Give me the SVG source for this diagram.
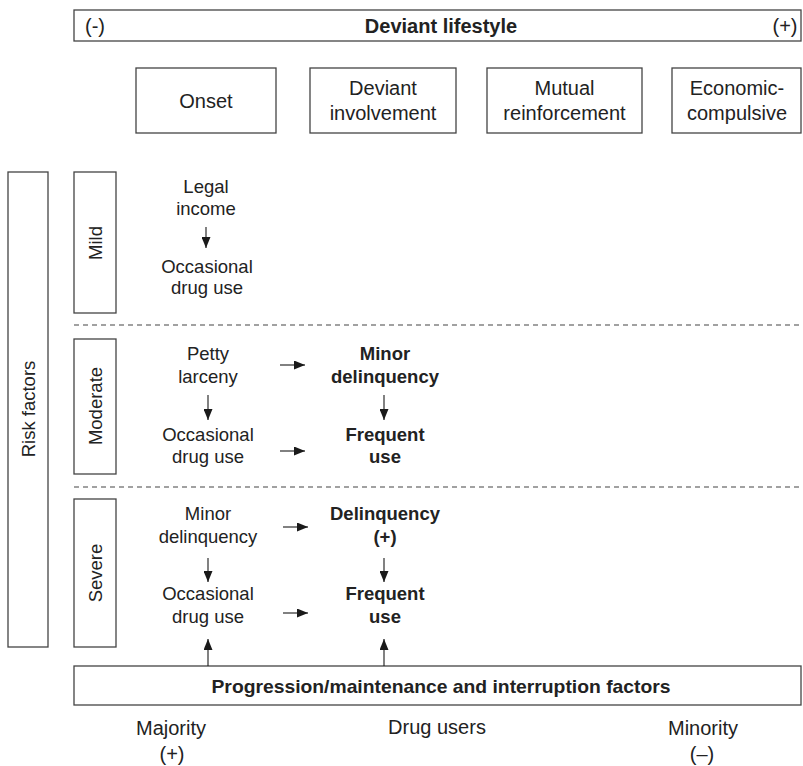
<svg xmlns="http://www.w3.org/2000/svg" width="803" height="766" viewBox="0 0 803 766">
  <defs>
    <marker id="ah" viewBox="0 0 11 9" refX="11" refY="4.5" markerWidth="11" markerHeight="9" orient="auto" markerUnits="userSpaceOnUse">
      <path d="M0,0 L11,4.5 L0,9 z" fill="#1a1a1a"/>
    </marker>
  </defs>
  <style>
    text { font-family: "Liberation Sans", Arial, sans-serif; fill: #222; text-anchor: middle; }
    .t { font-size: 18.5px; }
    .h { font-size: 20px; }
    .b { font-weight: bold; }
    .box { fill: #fff; stroke: #444; stroke-width: 1.3; }
    .dash { stroke: #444; stroke-width: 1.1; stroke-dasharray: 5 4; fill: none; }
    .arr { stroke: #1a1a1a; stroke-width: 1.1; fill: none; marker-end: url(#ah); }
  </style>
  <rect width="803" height="766" fill="#fff"/>

  <!-- header bar -->
  <g id="deviant-lifestyle">
    <rect class="box" x="74" y="10" width="727" height="31"/>
    <text class="h" x="95" y="33">(-)</text>
    <text class="h b" x="441" y="33">Deviant lifestyle</text>
    <text class="h" x="785" y="33">(+)</text>
  </g>

  <!-- stages -->
  <g id="onset">
    <rect class="box" x="136" y="68" width="140" height="65"/>
    <text class="h" x="206" y="108">Onset</text>
  </g>
  <g id="deviant-involvement">
    <rect class="box" x="310" y="68" width="146" height="65"/>
    <text class="h" x="383" y="95">Deviant</text>
    <text class="h" x="383" y="120">involvement</text>
  </g>
  <g id="mutual-reinforcement">
    <rect class="box" x="487" y="68" width="155" height="65"/>
    <text class="h" x="564.5" y="95">Mutual</text>
    <text class="h" x="564.5" y="120">reinforcement</text>
  </g>
  <g id="economic-compulsive">
    <rect class="box" x="672" y="68" width="129" height="65"/>
    <text class="h" x="737" y="95">Economic-</text>
    <text class="h" x="737" y="120">compulsive</text>
  </g>

  <!-- risk factors side bar -->
  <g id="risk-factors">
    <rect class="box" x="8" y="172" width="40" height="475"/>
    <text class="t" transform="translate(35,409) rotate(-90)">Risk factors</text>
  </g>

  <!-- severity labels -->
  <g id="mild">
    <rect class="box" x="74" y="172" width="42" height="141"/>
    <text class="t" transform="translate(102,243) rotate(-90)">Mild</text>
  </g>
  <g id="moderate">
    <rect class="box" x="74" y="339" width="42" height="135"/>
    <text class="t" transform="translate(102,406) rotate(-90)">Moderate</text>
  </g>
  <g id="severe">
    <rect class="box" x="74" y="499" width="42" height="148"/>
    <text class="t" transform="translate(102,573) rotate(-90)">Severe</text>
  </g>

  <!-- mild row -->
  <g id="legal-income">
    <text class="t" x="206" y="193">Legal</text>
    <text class="t" x="206" y="215">income</text>
  </g>
  <g id="mild-occasional">
    <text class="t" x="207" y="273">Occasional</text>
    <text class="t" x="207" y="294">drug use</text>
  </g>

  <!-- moderate row -->
  <g id="petty-larceny">
    <text class="t" x="208" y="360">Petty</text>
    <text class="t" x="208" y="383">larceny</text>
  </g>
  <g id="minor-delinquency-b">
    <text class="t b" x="385" y="360">Minor</text>
    <text class="t b" x="385" y="383">delinquency</text>
  </g>
  <g id="moderate-occasional">
    <text class="t" x="208" y="441">Occasional</text>
    <text class="t" x="208" y="463">drug use</text>
  </g>
  <g id="moderate-frequent">
    <text class="t b" x="385" y="441">Frequent</text>
    <text class="t b" x="385" y="463">use</text>
  </g>

  <!-- severe row -->
  <g id="minor-delinquency">
    <text class="t" x="208" y="520">Minor</text>
    <text class="t" x="208" y="543">delinquency</text>
  </g>
  <g id="delinquency-plus">
    <text class="t b" x="385" y="520">Delinquency</text>
    <text class="t b" x="385" y="543">(+)</text>
  </g>
  <g id="severe-occasional">
    <text class="t" x="208" y="600">Occasional</text>
    <text class="t" x="208" y="623">drug use</text>
  </g>
  <g id="severe-frequent">
    <text class="t b" x="385" y="600">Frequent</text>
    <text class="t b" x="385" y="623">use</text>
  </g>

  <!-- bottom bar -->
  <g id="progression-factors">
    <rect class="box" x="74" y="666" width="727" height="39"/>
    <text class="t b" x="441" y="693" textLength="459" lengthAdjust="spacingAndGlyphs">Progression/maintenance and interruption factors</text>
  </g>

  <!-- population scale -->
  <g id="majority">
    <text class="h" x="171" y="735">Majority</text>
    <text class="h" x="172" y="761">(+)</text>
  </g>
  <g id="drug-users">
    <text class="h" x="437" y="734">Drug users</text>
  </g>
  <g id="minority">
    <text class="h" x="703" y="735">Minority</text>
    <text class="h" x="702" y="761">(–)</text>
  </g>

  <!-- separators and arrows -->
  <g id="connectors">
    <line class="dash" x1="74" y1="325" x2="800" y2="325"/>
    <line class="dash" x1="74" y1="487" x2="800" y2="487"/>

    <line class="arr" x1="206" y1="227" x2="206" y2="248"/>

    <line class="arr" x1="208" y1="395" x2="208" y2="420"/>
    <line class="arr" x1="384" y1="395" x2="384" y2="420"/>
    <line class="arr" x1="280" y1="365" x2="305" y2="365"/>
    <line class="arr" x1="280" y1="451" x2="305" y2="451"/>

    <line class="arr" x1="208" y1="558" x2="208" y2="582"/>
    <line class="arr" x1="384" y1="558" x2="384" y2="582"/>
    <line class="arr" x1="283" y1="527" x2="308" y2="527"/>
    <line class="arr" x1="283" y1="613" x2="308" y2="613"/>

    <line class="arr" x1="208" y1="666" x2="208" y2="639"/>
    <line class="arr" x1="384" y1="666" x2="384" y2="639"/>
  </g>
</svg>
